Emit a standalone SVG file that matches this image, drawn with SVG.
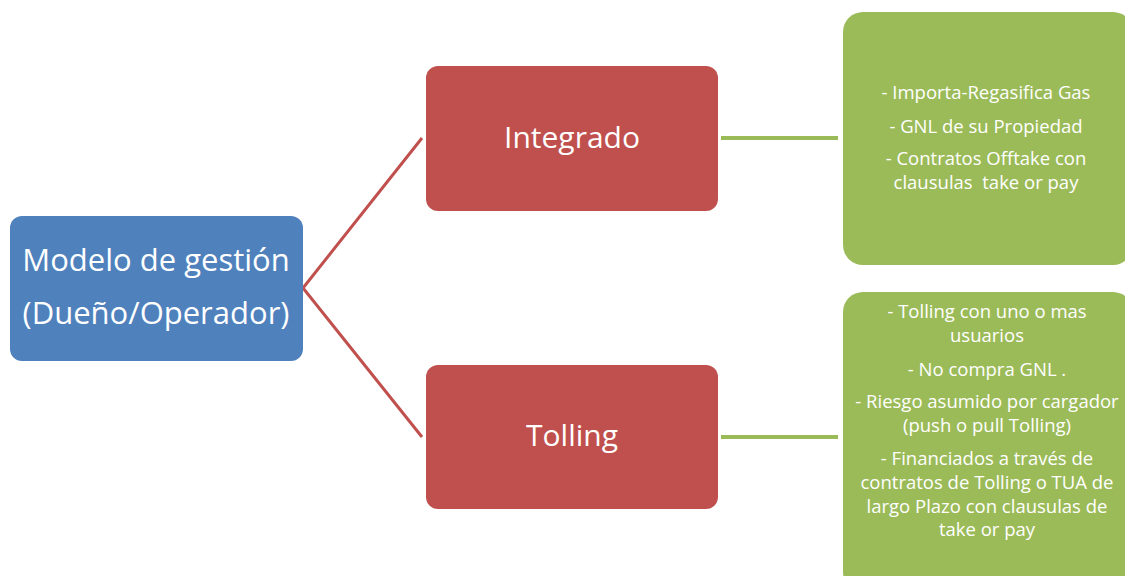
<svg xmlns="http://www.w3.org/2000/svg" width="1125" height="576" viewBox="0 0 1125 576">
  <style>
    .t { font-family: "Open Sans", "Liberation Sans", sans-serif; fill: #ffffff; text-anchor: middle; }
    .big { font-size: 31px; }
    .mid { font-size: 30px; }
    .small { font-size: 18.5px; }
    .pre { white-space: pre; }
    .red-link { stroke: #c0504d; stroke-width: 3; fill: none; }
    .green-link { stroke: #9bbb59; stroke-width: 4; fill: none; }
  </style>
  <rect width="1125" height="576" fill="#ffffff"/>

  <g id="connectors">
    <polyline class="red-link" points="422,138 303,288 422,437"/>
    <line class="green-link" x1="721" y1="138" x2="838" y2="138"/>
    <line class="green-link" x1="721" y1="437" x2="838" y2="437"/>
  </g>

  <g id="modelo">
    <rect x="10" y="216" width="293" height="145" rx="12" fill="#4f81bd"/>
    <text class="t big" x="156" y="271">Modelo de gestión</text>
    <text class="t big" x="156" y="324">(Dueño/Operador)</text>
  </g>

  <g id="integrado">
    <rect x="426" y="66" width="292" height="145" rx="12" fill="#c0504d"/>
    <text class="t mid" x="572" y="148">Integrado</text>
  </g>

  <g id="tolling">
    <rect x="426" y="365" width="292" height="144" rx="12" fill="#c0504d"/>
    <text class="t mid" x="572" y="446">Tolling</text>
  </g>

  <g id="integrado-detalle">
    <rect x="843" y="12" width="290" height="253" rx="20" fill="#9bbb59"/>
    <text class="t small" x="986" y="99">- Importa-Regasifica Gas</text>
    <text class="t small" x="986" y="133">- GNL de su Propiedad</text>
    <text class="t small" x="986" y="165">- Contratos Offtake con</text>
    <text class="t small pre" x="986" y="189">clausulas  take or pay</text>
  </g>

  <g id="tolling-detalle">
    <rect x="843" y="292" width="290" height="300" rx="20" fill="#9bbb59"/>
    <text class="t small" x="987" y="318">- Tolling con uno o mas</text>
    <text class="t small" x="987" y="342">usuarios</text>
    <text class="t small" x="987" y="376">- No compra GNL .</text>
    <text class="t small" x="987" y="408">- Riesgo asumido por cargador</text>
    <text class="t small" x="987" y="432">(push o pull Tolling)</text>
    <text class="t small" x="987" y="465">- Financiados a través de</text>
    <text class="t small" x="987" y="489">contratos de Tolling o TUA de</text>
    <text class="t small" x="987" y="513">largo Plazo con clausulas de</text>
    <text class="t small" x="987" y="536">take or pay</text>
  </g>
</svg>
